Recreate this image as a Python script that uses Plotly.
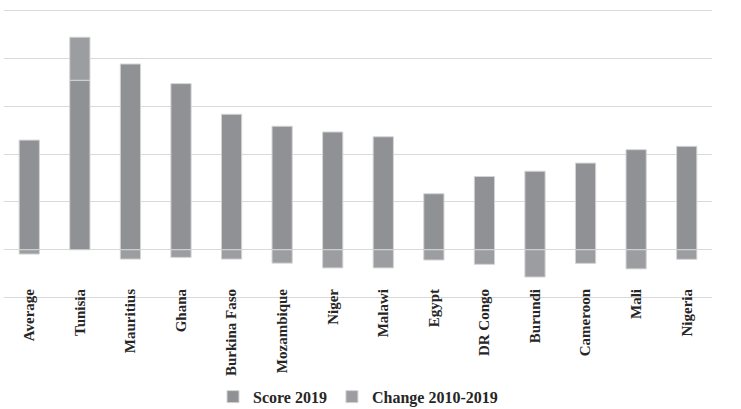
import plotly.graph_objects as go

categories = ["Average", "Tunisia", "Mauritius", "Ghana", "Burkina Faso", "Mozambique",
              "Niger", "Malawi", "Egypt", "DR Congo", "Burundi", "Cameroon", "Mali", "Nigeria"]
score_2019 = [22.9, 35.4, 38.8, 34.7, 28.3, 25.8, 24.6, 23.6, 11.7, 15.3, 16.4, 18.1, 20.9, 21.6]
change_2010_2019 = [-0.9, 9.0, -1.95, -1.6, -1.95, -2.8, -3.8, -3.8, -2.15, -3.05, -5.7, -2.85, -4.0, -2.0]

serif = "Liberation Serif, Times New Roman, serif"

fig = go.Figure()
fig.add_trace(go.Bar(
    x=categories, y=score_2019, name="Score 2019",
    marker=dict(color="#909195", line=dict(color="#d4d4d6", width=1)),
))
fig.add_trace(go.Bar(
    x=categories, y=change_2010_2019, name="Change 2010-2019",
    marker=dict(color="#9c9da0", line=dict(color="#d4d4d6", width=1)),
))

fig.update_layout(
    width=741, height=409,
    margin=dict(l=4, r=29, t=8, b=109),
    barmode="relative",
    bargap=0.6,
    plot_bgcolor="white", paper_bgcolor="white",
    font=dict(family=serif, color="#262626"),
    showlegend=True,
    legend=dict(
        orientation="h", x=0.5, xanchor="center",
        yref="container", y=0.03, yanchor="middle",
        font=dict(family=serif, size=16, color="#262626", weight="bold"),
        itemwidth=30, tracegroupgap=0, borderwidth=0,
    ),
    xaxis=dict(
        tickangle=-90, showgrid=False, showline=False, ticks="",
        tickfont=dict(family=serif, size=15, color="#262626", weight="bold"),
        ticklabelstandoff=-15, automargin=False,
    ),
    yaxis=dict(
        range=[-10.5, 50.5], dtick=10, showticklabels=False, showgrid=True,
        gridcolor="#d9d9d9", gridwidth=1, zeroline=True, zerolinecolor="#d9d9d9",
        zerolinewidth=1, showline=False, ticks="", automargin=False,
    ),
)

fig.write_html("out.html", config={"displayModeBar": False},
               post_script="document.body.style.margin='0';")
